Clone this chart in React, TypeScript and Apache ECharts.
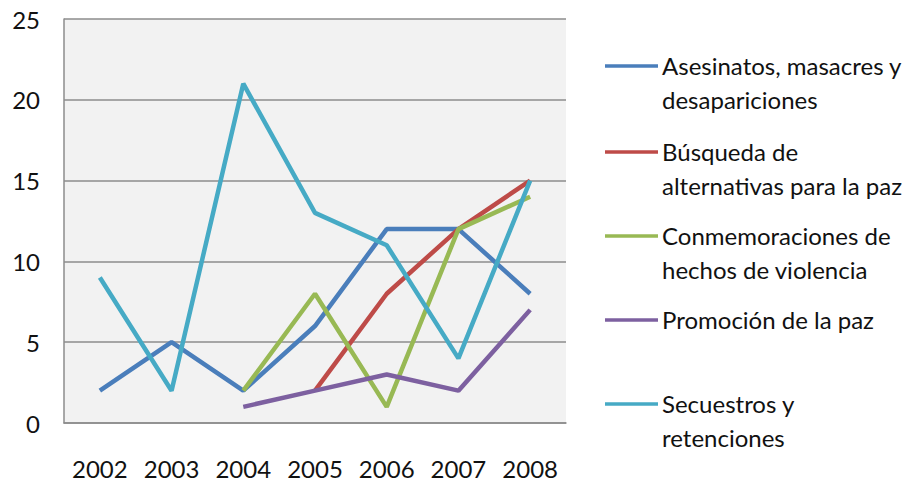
import React, { useEffect, useRef } from "react";
import * as echarts from "echarts";

const years = ["2002", "2003", "2004", "2005", "2006", "2007", "2008"];
const asesinatos = [2, 5, 2, 6, 12, 12, 8];
const busqueda = [null, null, null, 2, 8, 12, 15];
const conmemoraciones = [null, null, 2, 8, 1, 12, 14];
const promocion = [null, null, 1, 2, 3, 2, 7];
const secuestros = [9, 2, 21, 13, 11, 4, 15];

const seriesNames = [
  "Asesinatos, masacres y desapariciones",
  "Búsqueda de alternativas para la paz",
  "Conmemoraciones de hechos de violencia",
  "Promoción de la paz",
  "Secuestros y retenciones",
];
const legendLines = [
  "Asesinatos, masacres y\ndesapariciones",
  "Búsqueda de\nalternativas para la paz",
  "Conmemoraciones de\nhechos de violencia",
  "Promoción de la paz",
  "Secuestros y\nretenciones",
];
const seriesData = [asesinatos, busqueda, conmemoraciones, promocion, secuestros];
const colors = ["#4a7ebb", "#be4b48", "#98b954", "#7d60a0", "#46aac5"];
const legendY = [66, 152, 236, 320, 404];

const FONT = "Lato, 'Open Sans', sans-serif";

export default function App() {
  const ref = useRef<HTMLDivElement>(null);
  useEffect(() => {
    if (!ref.current) return;
    const chart = echarts.init(ref.current, null, { renderer: "svg" });
    const graphic: any[] = [];
    legendLines.forEach((t, i) => {
      graphic.push({
        type: "line",
        shape: { x1: 605, y1: legendY[i], x2: 658, y2: legendY[i] },
        style: { stroke: colors[i], lineWidth: 3.5 },
      });
      graphic.push({
        type: "text",
        x: 662,
        y: legendY[i] - 18,
        style: {
          text: t,
          font: `24px ${FONT}`,
          fill: "#111",
          lineHeight: 34,
          textVerticalAlign: "top",
          textAlign: "left",
        },
      });
    });
    chart.setOption({
      animation: false,
      color: colors,
      grid: {
        left: 64,
        top: 19,
        right: 345,
        bottom: 59,
        show: true,
        backgroundColor: "#f2f2f2",
        borderWidth: 0,
      },
      xAxis: {
        type: "category",
        data: years,
        boundaryGap: true,
        axisLine: { show: true, lineStyle: { color: "#8c8c8c", width: 1.5 } },
        axisTick: { show: false },
        axisLabel: {
          color: "#111",
          fontSize: 24,
          lineHeight: 24,
          fontFamily: FONT,
          margin: 33,
          interval: 0,
          hideOverlap: false,
        },
      },
      yAxis: {
        type: "value",
        min: 0,
        max: 25,
        interval: 5,
        axisLine: { show: true, lineStyle: { color: "#8c8c8c", width: 1.5 } },
        axisTick: { show: false },
        splitLine: { show: true, lineStyle: { color: "#8c8c8c", width: 1.5 } },
        axisLabel: { color: "#111", fontSize: 24, fontFamily: FONT, margin: 24 },
      },
      series: seriesData.map((d, i) => ({
        name: seriesNames[i],
        type: "line",
        data: d,
        showSymbol: false,
        symbol: "none",
        lineStyle: { width: 4.5, color: colors[i] },
        itemStyle: { color: colors[i] },
        connectNulls: false,
      })),
      graphic,
    });
    return () => chart.dispose();
  }, []);
  return (
    <div
      ref={ref}
      style={{ position: "absolute", left: 0, top: 0, width: 911, height: 482 }}
    />
  );
}
